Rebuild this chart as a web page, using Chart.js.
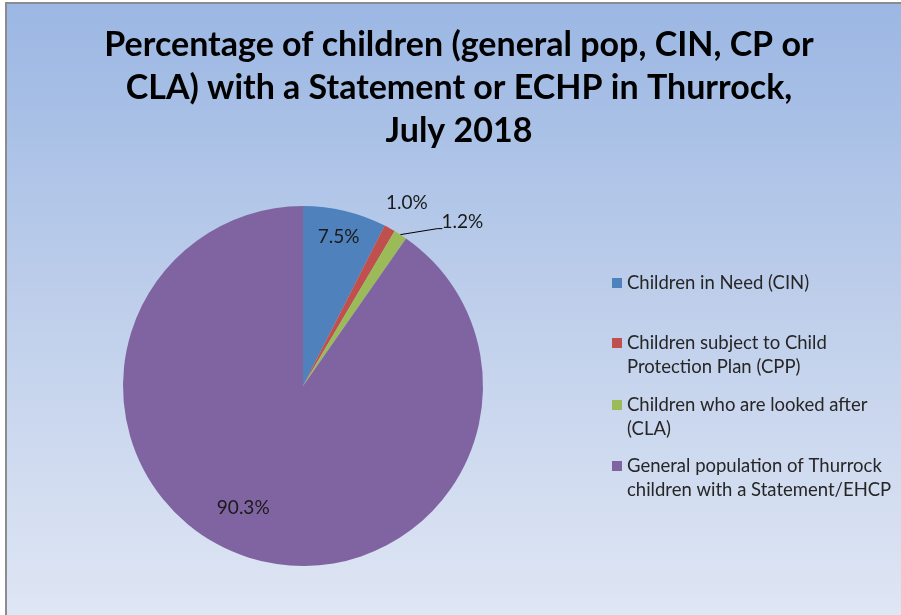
<!DOCTYPE html>
<html>
<head>
<meta charset="utf-8">
<script src="https://cdn.jsdelivr.net/npm/chart.js@4.4.1/dist/chart.umd.min.js"></script>
<style>
  html, body { margin: 0; padding: 0; background: #ffffff; }
  #wrap { position: absolute; left: 0; top: 0; width: 901px; height: 615px; }
</style>
</head>
<body>
<div id="wrap"><canvas id="c" width="901" height="615"></canvas></div>
<script>
// Thurrock SEN breakdown, July 2018
const categories = [
  'Children in Need (CIN)',
  'Children subject to Child Protection Plan (CPP)',
  'Children who are looked after (CLA)',
  'General population of Thurrock children with a Statement/EHCP'
];
// legend text, wrapped as it is shown
const legendLines = [
  ['Children in Need (CIN)'],
  ['Children subject to Child', 'Protection Plan (CPP)'],
  ['Children who are looked after', '(CLA)'],
  ['General population of Thurrock', 'children with a Statement/EHCP']
];
const values = [7.5, 1.0, 1.2, 90.3];
const colors = ['#4f81bd', '#c0504d', '#9bbb59', '#8064a2'];
const titleLines = [
  'Percentage of children (general pop, CIN, CP or',
  'CLA) with a Statement or ECHP in Thurrock,',
  'July 2018'
];

const FONT = 'Lato, "Open Sans", sans-serif';

// frame: white page, grey edge, blue gradient panel
const framePlugin = {
  id: 'frame',
  beforeDraw(chart) {
    const ctx = chart.ctx;
    ctx.save();
    ctx.fillStyle = '#ffffff';
    ctx.fillRect(0, 0, 901, 615);
    ctx.fillStyle = '#8c8c8c';
    ctx.fillRect(5, 2, 896, 613);
    const g = ctx.createLinearGradient(0, 4, 0, 615);
    g.addColorStop(0, '#9bb7e3');
    g.addColorStop(0.5, '#bfcfeb');
    g.addColorStop(1, '#dfe6f4');
    ctx.fillStyle = g;
    ctx.fillRect(7, 4, 894, 611);
    ctx.restore();
  }
};

// title, legend and value labels
const textPlugin = {
  id: 'texts',
  afterDraw(chart) {
    const ctx = chart.ctx;
    ctx.save();
    // title
    ctx.fillStyle = '#000000';
    ctx.textAlign = 'center';
    ctx.textBaseline = 'middle';
    ctx.font = 'bold 34px ' + FONT;
    titleLines.forEach((t, i) => ctx.fillText(t, 459, 45 + i * 43));

    // legend
    ctx.font = '18.5px ' + FONT;
    ctx.textAlign = 'left';
    const itemTops = [283, 343, 405, 466];
    legendLines.forEach((lines, i) => {
      ctx.fillStyle = colors[i];
      ctx.fillRect(612, itemTops[i] - 5, 10, 10);
      ctx.fillStyle = '#262626';
      lines.forEach((l, j) => ctx.fillText(l, 627, itemTops[i] + j * 24));
    });

    // value labels
    const meta = chart.getDatasetMeta(0);
    const place = [
      { r: 0.85, dx: 0, dy: 0 },
      { r: 1.14, dx: 5, dy: -3 },
      null,
      { r: 0.755, dx: -19, dy: -8 }
    ];
    ctx.font = '19px ' + FONT;
    ctx.fillStyle = '#1a1a1a';
    ctx.textAlign = 'center';
    meta.data.forEach((arc, i) => {
      const p = arc.getProps(['x', 'y', 'startAngle', 'endAngle', 'outerRadius'], true);
      const mid = (p.startAngle + p.endAngle) / 2;
      const text = values[i].toFixed(1) + '%';
      if (place[i]) {
        const rr = p.outerRadius * place[i].r;
        const x = p.x + Math.cos(mid) * rr + place[i].dx;
        const y = p.y + Math.sin(mid) * rr + place[i].dy;
        ctx.fillText(text, x, y);
      } else {
        // leader line out to the label
        const ex = p.x + Math.cos(mid) * p.outerRadius;
        const ey = p.y + Math.sin(mid) * p.outerRadius;
        const bx = ex + 37, by = ey - 6;
        ctx.strokeStyle = '#000000';
        ctx.lineWidth = 1;
        ctx.beginPath();
        ctx.moveTo(ex, ey);
        ctx.lineTo(bx, by);
        ctx.lineTo(bx + 5, by);
        ctx.stroke();
        ctx.textAlign = 'left';
        ctx.fillText(text, bx + 4, by - 7);
        ctx.textAlign = 'center';
      }
    });
    ctx.restore();
  }
};

new Chart(document.getElementById('c'), {
  type: 'pie',
  data: {
    labels: categories,
    datasets: [{
      data: values,
      backgroundColor: colors,
      borderWidth: 0
    }]
  },
  options: {
    responsive: false,
    animation: false,
    layout: { padding: { left: 123, right: 418, top: 206, bottom: 49 } },
    plugins: {
      legend: { display: false },
      title: { display: false },
      tooltip: { enabled: false }
    }
  },
  plugins: [framePlugin, textPlugin]
});
</script>
</body>
</html>
